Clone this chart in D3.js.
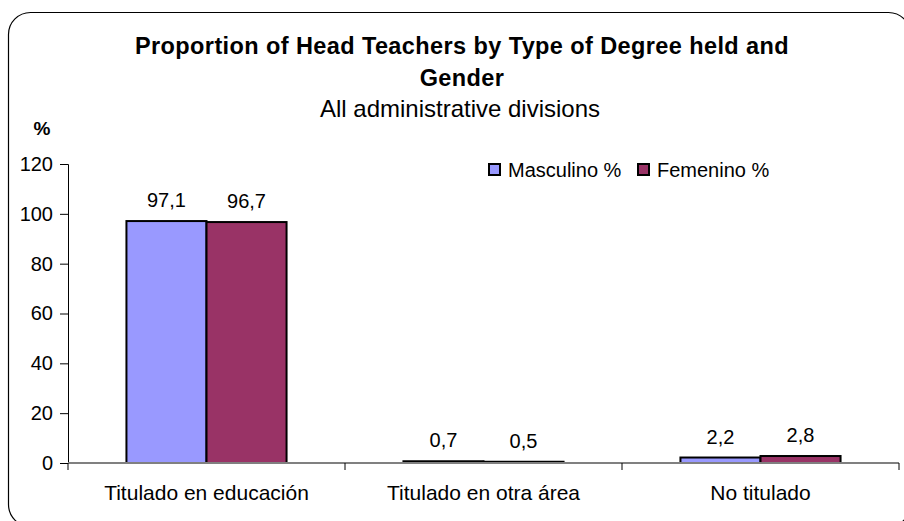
<!DOCTYPE html>
<html>
<head>
<meta charset="utf-8">
<script src="https://cdn.jsdelivr.net/npm/d3@7"></script>
<style>
  html, body { margin: 0; padding: 0; background: #fff; }
  svg { display: block; font-family: "Liberation Sans", Arial, sans-serif; }
</style>
</head>
<body>
<svg id="chart" width="904" height="521"></svg>
<script>
const categories = ["Titulado en educación", "Titulado en otra área", "No titulado"];
const seriesNames = ["Masculino %", "Femenino %"];
const masculino = [97.1, 0.7, 2.2];
const femenino = [96.7, 0.5, 2.8];
const yTicks = [0, 20, 40, 60, 80, 100, 120];
const valueLabels = [["97,1", "0,7", "2,2"], ["96,7", "0,5", "2,8"]];
const colors = ["#9999FF", "#993366"];

const svg = d3.select("#chart");
const FONT = "Liberation Sans, Arial, sans-serif";

// frame
svg.append("rect")
  .attr("x", 8.5).attr("y", 12.5)
  .attr("width", 902).attr("height", 514)
  .attr("rx", 22).attr("ry", 22)
  .attr("fill", "#fff").attr("stroke", "#000").attr("stroke-width", 1.2);

// titles
svg.append("text").attr("x", 462).attr("y", 54).attr("text-anchor", "middle")
  .attr("font-size", 23.5).attr("font-weight", "bold").attr("letter-spacing", 0.4)
  .text("Proportion of Head Teachers by Type of Degree held and");
svg.append("text").attr("x", 462).attr("y", 86).attr("text-anchor", "middle")
  .attr("font-size", 23.5).attr("font-weight", "bold").attr("letter-spacing", 0.4).text("Gender");
svg.append("text").attr("x", 460).attr("y", 117).attr("text-anchor", "middle")
  .attr("font-size", 24).text("All administrative divisions");
svg.append("text").attr("x", 42).attr("y", 135).attr("text-anchor", "middle")
  .attr("font-size", 19).attr("font-weight", "bold").text("%");

const plotLeft = 68, plotRight = 899, plotTop = 164, plotBottom = 463;

const x = d3.scaleBand().domain(categories).range([plotLeft, plotRight]).paddingInner(0).paddingOuter(0);
const xs = d3.scaleBand().domain(seriesNames).range([0, x.bandwidth()]).paddingInner(0).paddingOuter(0.73);
const y = d3.scaleLinear().domain([0, 120]).range([plotBottom, plotTop]);

// y axis
const yAxis = d3.axisLeft(y).tickValues(yTicks).tickSize(8).tickPadding(7);
const gy = svg.append("g").attr("transform", `translate(${plotLeft},0)`).call(yAxis);
gy.select(".domain").attr("stroke", "#000").attr("stroke-width", 1);
gy.selectAll(".tick line").attr("stroke", "#000");
gy.selectAll(".tick text").attr("font-size", 20).attr("font-family", FONT).attr("fill", "#000");

// bars
const data = [masculino, femenino];
data.forEach((vals, si) => {
  svg.append("g").selectAll("rect")
    .data(vals)
    .join("rect")
    .attr("x", (d, i) => x(categories[i]) + xs(seriesNames[si]))
    .attr("y", d => y(d))
    .attr("width", xs.bandwidth())
    .attr("height", d => y(0) - y(d))
    .attr("fill", colors[si])
    .attr("stroke", "#000")
    .attr("stroke-width", 2);
  svg.append("g").selectAll("text")
    .data(vals)
    .join("text")
    .attr("x", (d, i) => x(categories[i]) + xs(seriesNames[si]) + xs.bandwidth() / 2)
    .attr("y", d => y(d) - 14)
    .attr("text-anchor", "middle")
    .attr("font-size", 20)
    .text((d, i) => valueLabels[si][i]);
});

// x axis
const xAxis = d3.axisBottom(x).tickSize(0).tickPadding(22);
const gx = svg.append("g").attr("transform", `translate(0,${plotBottom})`).call(xAxis);
gx.select(".domain").attr("stroke", "#808080").attr("stroke-width", 2).attr("d", `M${plotLeft},0H${plotRight}`);
gx.selectAll(".tick text").attr("font-size", 21).attr("font-family", FONT).attr("fill", "#000");
// category boundary ticks
const bounds = [plotLeft, ...categories.map(c => x(c) + x.bandwidth())];
svg.append("g").selectAll("line").data(bounds).join("line")
  .attr("x1", d => d).attr("x2", d => d)
  .attr("y1", plotBottom).attr("y2", plotBottom + 7)
  .attr("stroke", "#000").attr("stroke-width", 1);

// legend
const legend = svg.append("g");
const legendX = [489, 638];
seriesNames.forEach((name, i) => {
  legend.append("rect").attr("x", legendX[i]).attr("y", 164)
    .attr("width", 11).attr("height", 11)
    .attr("fill", colors[i]).attr("stroke", "#000").attr("stroke-width", 2);
  legend.append("text").attr("x", legendX[i] + 19).attr("y", 177)
    .attr("font-size", 20).text(name);
});
</script>
</body>
</html>
